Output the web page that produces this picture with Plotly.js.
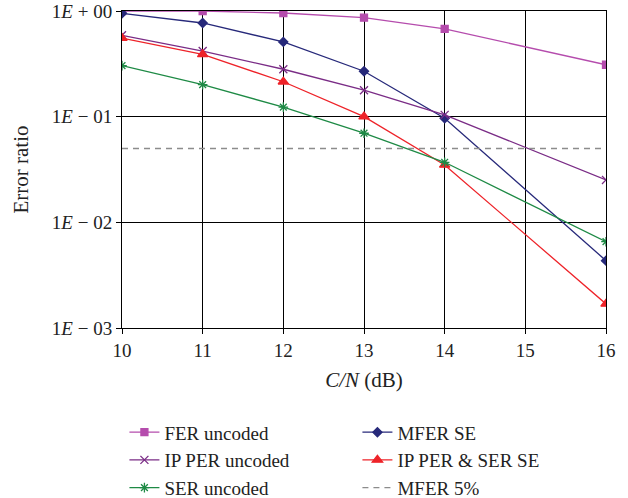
<!DOCTYPE html>
<html>
<head>
<meta charset="utf-8">
<script src="https://cdn.plot.ly/plotly-3.0.1.min.js"></script>
<style>html,body{margin:0;padding:0;background:#fff;}#chart{width:628px;height:498px;}</style>
</head>
<body>
<div id="chart"></div>
<script>
const cn = [10, 11, 12, 13, 14, 16];
const ferUncoded = [1.0, 1.0, 0.957, 0.865, 0.676, 0.31];
const mferSE = [0.95, 0.77, 0.51, 0.269, 0.0966, 0.00434];
const ipPerUncoded = [0.589, 0.418, 0.281, 0.178, 0.104, 0.0252];
const ipPerSerSE = [0.555, 0.389, 0.214, 0.1, 0.0349, 0.00169];
const serUncoded = [0.304, 0.201, 0.123, 0.0697, 0.037, 0.00656];
const mfer5x = [10, 16];
const mfer5y = [0.05, 0.05];
const yTickVals = [1, 0.1, 0.01, 0.001];
const yTickText = ['1<i>E</i> + 00', '1<i>E</i> − 01', '1<i>E</i> − 02', '1<i>E</i> − 03'];
const xTickVals = [10, 11, 12, 13, 14, 15, 16];

const font = 'Liberation Serif, Times New Roman, serif';
function tr(name, y, color, symbol, size, extra) {
  return Object.assign({
    type: 'scatter', mode: 'lines+markers', name: name, x: cn, y: y,
    line: {color: color, width: 1.3},
    marker: {color: color, symbol: symbol, size: size, line: {color: color, width: 1.3}}
  }, extra || {});
}
const data = [
  tr('FER uncoded', ferUncoded, '#B54CAD', 'square', 7),
  tr('MFER SE', mferSE, '#27297A', 'diamond', 7),
  tr('IP PER uncoded', ipPerUncoded, '#7A2C86', 'x-thin-open', 8),
  tr('IP PER &amp; SER SE', ipPerSerSE, '#EE2329', 'triangle-up', 9),
  tr('SER uncoded', serUncoded, '#1E8A45', 'asterisk-open', 8),
  {type: 'scatter', mode: 'lines', name: 'MFER 5%', x: mfer5x, y: mfer5y,
   line: {color: '#8C8C8C', width: 1.3, dash: '6px,5px'}}
];
const layout = {
  width: 628, height: 498,
  margin: {l: 122, r: 22, t: 11, b: 170},
  paper_bgcolor: '#fff', plot_bgcolor: '#fff',
  font: {family: font, size: 19, color: '#222'},
  showlegend: true,
  xaxis: {
    range: [10, 16], tickvals: xTickVals, ticks: 'outside', ticklen: 5, tickcolor: '#000',
    showline: true, linecolor: '#000', linewidth: 1, mirror: true,
    showgrid: true, gridcolor: '#000', gridwidth: 1, zeroline: false,
    tickfont: {family: font, size: 19},
    title: {text: '<i>C/N</i> (dB)', font: {family: font, size: 21}, standoff: 12}
  },
  yaxis: {
    type: 'log', range: [-3, 0], tickvals: yTickVals, ticktext: yTickText,
    ticks: 'outside', ticklen: 5, tickcolor: '#000',
    showline: true, linecolor: '#000', linewidth: 1, mirror: true,
    showgrid: true, gridcolor: '#000', gridwidth: 1, zeroline: false,
    tickfont: {family: font, size: 19},
    title: {text: 'Error ratio', font: {family: font, size: 21}, standoff: 17}
  },
  legend: {
    orientation: 'h', xref: 'paper', x: 0.005, xanchor: 'left',
    yref: 'container', y: 0.17, yanchor: 'top',
    entrywidth: 188, entrywidthmode: 'pixels', tracegroupgap: 0,
    font: {family: font, size: 19}, itemwidth: 30, traceorder: 'normal'
  }
};
Plotly.newPlot('chart', data, layout, {displayModeBar: false, staticPlot: true});
</script>
</body>
</html>
